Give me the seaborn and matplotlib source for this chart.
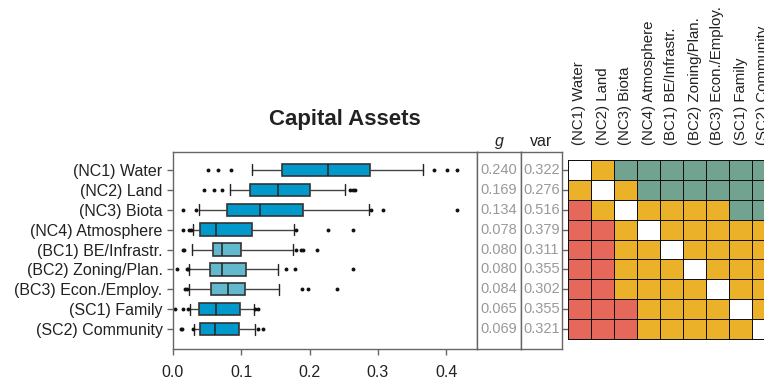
import matplotlib
matplotlib.use("Agg")
import matplotlib.pyplot as plt
from matplotlib.colors import ListedColormap
import numpy as np
import pandas as pd
import seaborn as sns

# row labels of the capital assets
assets = ["(NC1) Water", "(NC2) Land", "(NC3) Biota", "(NC4) Atmosphere",
          "(BC1) BE/Infrastr.", "(BC2) Zoning/Plan.", "(BC3) Econ./Employ.",
          "(SC1) Family", "(SC2) Community"]

# box statistics
q1 = [0.159, 0.113, 0.079, 0.040, 0.058, 0.054, 0.056, 0.038, 0.040]
med = [0.227, 0.153, 0.128, 0.063, 0.072, 0.072, 0.080, 0.063, 0.061]
q3 = [0.289, 0.200, 0.191, 0.116, 0.099, 0.107, 0.106, 0.098, 0.097]
whis_lo = [0.115, 0.084, 0.038, 0.029, 0.028, 0.024, 0.024, 0.025, 0.031]
whis_hi = [0.366, 0.252, 0.287, 0.177, 0.176, 0.153, 0.155, 0.118, 0.120]
fliers = [
    [0.051, 0.066, 0.085, 0.382, 0.401, 0.415],
    [0.045, 0.060, 0.072, 0.259, 0.264, 0.267],
    [0.014, 0.034, 0.290, 0.307, 0.416],
    [0.015, 0.024, 0.027, 0.180, 0.227, 0.264],
    [0.014, 0.016, 0.180, 0.188, 0.191, 0.211],
    [0.006, 0.020, 0.022, 0.166, 0.178, 0.264],
    [0.018, 0.020, 0.189, 0.198, 0.240],
    [0.003, 0.014, 0.022, 0.120, 0.124],
    [0.011, 0.013, 0.029, 0.124, 0.132],
]
built = [False, False, False, False, True, True, True, False, False]

g_vals = [0.240, 0.169, 0.134, 0.078, 0.080, 0.080, 0.084, 0.065, 0.069]
var_vals = [0.322, 0.276, 0.516, 0.379, 0.311, 0.355, 0.302, 0.355, 0.321]

# pairwise relation matrix: D diagonal, O / G / R categories
relation = [
    "DOGGGGGGG",
    "ODOGGGGGG",
    "RODOOOOGG",
    "RRODOOOOO",
    "RROODOOOO",
    "RROOODOOO",
    "RROOOODOO",
    "RRROOOODO",
    "RRROOOOOD",
]

sns.set_style("ticks")
plt.rcParams['font.family'] = ['Liberation Sans', 'DejaVu Sans']

W, H = 764, 382
fig = plt.figure(figsize=(W / 100, H / 100), dpi=100)


def px_axes(l, t, r, b):
    return fig.add_axes([l / W, 1 - b / H, (r - l) / W, (b - t) / H])


frame = '#666666'
ylim = (9.0, -0.9)

# --- boxplot panel
ax = px_axes(173, 152, 477, 349)
stats = []
for i in range(len(assets)):
    stats.append(dict(q1=q1[i], med=med[i], q3=q3[i], whislo=whis_lo[i],
                      whishi=whis_hi[i], fliers=fliers[i], label=assets[i]))
bp = ax.bxp(stats, positions=range(len(assets)), orientation='horizontal',
            widths=0.62, capwidths=0.55, patch_artist=True,
            boxprops=dict(edgecolor='#333333', linewidth=1.2),
            medianprops=dict(color='#222222', linewidth=1.1),
            whiskerprops=dict(color='#444444', linewidth=1.0),
            capprops=dict(color='#222222', linewidth=1.0),
            flierprops=dict(marker='o', markersize=2.8, markerfacecolor='#111111',
                            markeredgecolor='none'))
for patch, b in zip(bp['boxes'], built):
    patch.set_facecolor('#62B9CD' if b else '#0099CC')

ax.set_xlim(0, 0.445)
ax.set_ylim(*ylim)
ax.set_xticks([0.0, 0.1, 0.2, 0.3, 0.4])
ax.set_xticklabels(['0.0', '0.1', '0.2', '0.3', '0.4'])
ax.set_yticks(range(len(assets)))
ax.set_yticklabels(assets)
ax.tick_params(axis='both', direction='out', length=4.5, width=1, color=frame,
               labelsize=11.5, labelcolor='#222222', pad=3)
ax.tick_params(axis='x', pad=7)
for s in ax.spines.values():
    s.set_color(frame)
    s.set_linewidth(1)
ax.grid(False)

fig.text(345 / W, 1 - 120 / H, "Capital Assets", ha='center', va='center',
         fontsize=16, fontweight='bold', color='#222222')

# --- g and var columns
for col_ax, vals, head, style in [(px_axes(477, 152, 521, 349), g_vals, 'g', 'italic'),
                                  (px_axes(521, 152, 562, 349), var_vals, 'var', 'normal')]:
    col_ax.set_xlim(0, 1)
    col_ax.set_ylim(*ylim)
    col_ax.set_xticks([])
    col_ax.set_yticks([])
    for s in col_ax.spines.values():
        s.set_color(frame)
        s.set_linewidth(1)
    for i, v in enumerate(vals):
        col_ax.text(0.5, i, f"{v:.3f}", ha='center', va='center',
                    fontsize=10.5, color='#999999')
    col_ax.text(0.5, 1.015, head, transform=col_ax.transAxes, ha='center',
                va='bottom', fontsize=11.5, fontstyle=style, color='#222222')

# --- relation matrix
codes = {'D': 0, 'O': 1, 'G': 2, 'R': 3}
mat = pd.DataFrame([[codes[c] for c in row] for row in relation],
                   index=assets, columns=assets)
cmap = ListedColormap(['#FFFFFF', '#EBB229', '#72A391', '#E5685B'])
axm = px_axes(568, 152, 775, 349)
sns.heatmap(mat, ax=axm, cmap=cmap, vmin=-0.5, vmax=3.5, cbar=False,
            linewidths=0.7, linecolor='#111111', square=False)
axm.set_ylim(9.5, -0.4)
axm.xaxis.tick_top()
axm.set_xticklabels(assets, rotation=90, fontsize=10.8, color='#222222',
                    va='bottom', ha='center')
axm.set_yticklabels([])
axm.tick_params(axis='x', length=0, pad=5)
axm.tick_params(axis='y', direction='out', length=4.5, width=1, color=frame)
for s in axm.spines.values():
    s.set_visible(False)

fig.savefig("out.png", dpi=100)
